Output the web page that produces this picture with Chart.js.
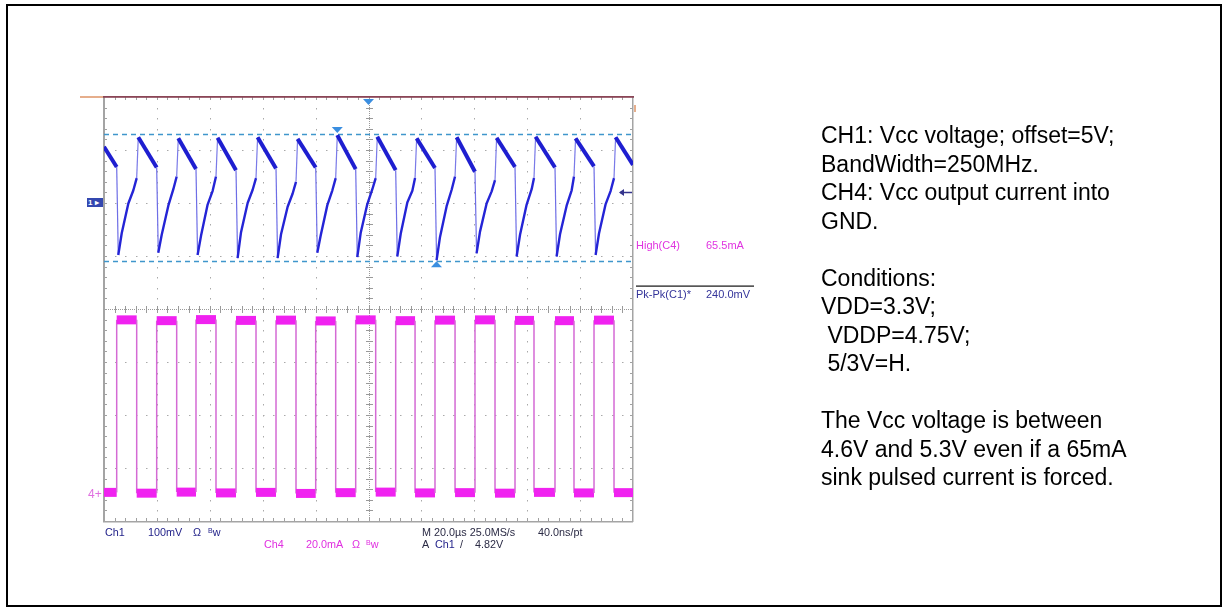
<!DOCTYPE html>
<html><head><meta charset="utf-8">
<script src="https://cdn.jsdelivr.net/npm/chart.js@4.4.0/dist/chart.umd.min.js"></script>
<style>
html,body{margin:0;padding:0;background:#fff;}
#wrap{position:relative;width:1228px;height:612px;overflow:hidden;font-family:"Liberation Sans",Arial,sans-serif;}
#frame{position:absolute;left:6px;top:4px;width:1212px;height:599px;border:2px solid #000;}
canvas{position:absolute;left:0;top:0;}
.t{position:absolute;white-space:pre;line-height:1;}
.s{font-size:10.8px;}
.m{font-size:11px;}
#notes{position:absolute;left:821px;top:121px;font-size:23px;line-height:28.5px;color:#000;white-space:pre;}
</style></head>
<body><div id="wrap">
<div id="frame"></div>
<canvas id="c" width="1228" height="612"></canvas>
<div class="t" style="left:87px;top:198px;width:16px;height:9px;background:#3448b0;color:#fff;font-size:8px;font-weight:bold;line-height:9px;padding-left:1px;box-sizing:border-box">1 ▸</div>
<div class="t" style="left:88px;top:488px;font-size:12px;color:#e070e0">4+</div>
<div class="t m" style="left:636px;top:240px;color:#e035e0">High(C4)</div>
<div class="t m" style="left:706px;top:240px;color:#e035e0">65.5mA</div>
<div class="t m" style="left:636px;top:288.5px;color:#34349a">Pk-Pk(C1)*</div>
<div class="t m" style="left:706px;top:288.5px;color:#34349a">240.0mV</div>
<div class="t s" style="left:105px;top:527px;color:#23238a">Ch1</div>
<div class="t s" style="left:148px;top:527px;color:#23238a">100mV</div>
<div class="t s" style="left:193px;top:527px;color:#23238a">Ω</div>
<div class="t s" style="left:208px;top:527px;color:#23238a"><span style="font-size:7px;vertical-align:3px">B</span>w</div>
<div class="t s" style="left:264px;top:539px;color:#e030e0">Ch4</div>
<div class="t s" style="left:306px;top:539px;color:#e030e0">20.0mA</div>
<div class="t s" style="left:352px;top:539px;color:#e030e0">Ω</div>
<div class="t s" style="left:366px;top:539px;color:#e030e0"><span style="font-size:7px;vertical-align:3px">B</span>w</div>
<div class="t s" style="left:422px;top:527px;color:#2a2a44">M 20.0µs 25.0MS/s</div>
<div class="t s" style="left:538px;top:527px;color:#2a2a44">40.0ns/pt</div>
<div class="t s" style="left:422px;top:539px;color:#2a2a44">A</div>
<div class="t s" style="left:435px;top:539px;color:#23238a">Ch1</div>
<div class="t s" style="left:460px;top:539px;color:#2a2a44">/</div>
<div class="t s" style="left:475px;top:539px;color:#2a2a44">4.82V</div>
<div id="notes">CH1: Vcc voltage; offset=5V;
BandWidth=250MHz.
CH4: Vcc output current into
GND.

Conditions:
VDD=3.3V;
 VDDP=4.75V;
 5/3V=H.

The Vcc voltage is between
4.6V and 5.3V even if a 65mA
sink pulsed current is forced.</div>
</div>
<script>
// ---- axis divisions ----
const timeDivUs = [-100, -80, -60, -40, -20, 0, 20, 40, 60, 80, 100];
const voltDivV = [4.2, 4.3, 4.4, 4.5, 4.6, 4.7, 4.8, 4.9, 5.0];
const ch4RangeMa = [-10.6, 149.4];

// ---- CH4 current pulses ----
const pulseStartUs = [-95.20, -80.08, -65.22, -50.09, -34.97, -19.96, -4.84, 10.28, 25.14, 40.26, 55.39, 70.51, 85.26];
const pulseEndUs   = [-87.64, -72.52, -57.66, -42.53, -27.41, -12.40, 2.72, 17.60, 32.72, 47.83, 62.57, 77.69, 92.82];
const ch4HighMa = [65.3, 65.0, 65.4, 65.1, 65.2, 64.9, 65.3, 65.0, 65.2, 65.3, 65.1, 65.0, 65.2];
const ch4LowMa  = [0.2, -0.1, 0.3, 0.0, 0.2, -0.2, 0.1, 0.3, 0.0, 0.1, -0.1, 0.2, 0.0, 0.1];

// ---- CH1 voltage ----
const ch1LeftV = 4.906;
const ch1RightV = 4.872;
const ch1KneeV  = [4.868, 4.867, 4.864, 4.862, 4.865, 4.867, 4.864, 4.862, 4.866, 4.859, 4.868, 4.867, 4.869];
const ch1MinV   = [4.702, 4.706, 4.702, 4.696, 4.696, 4.706, 4.698, 4.699, 4.692, 4.705, 4.699, 4.699, 4.702];
const ch1Rise1V = [4.743, 4.740, 4.738, 4.745, 4.741, 4.739, 4.744, 4.742, 4.736, 4.746, 4.740, 4.741, 4.743];
const ch1Rise2V = [4.799, 4.795, 4.797, 4.800, 4.793, 4.796, 4.798, 4.801, 4.794, 4.799, 4.797, 4.795, 4.798];
const ch1Rise3V = [4.824, 4.826, 4.823, 4.825, 4.818, 4.824, 4.826, 4.823, 4.825, 4.822, 4.826, 4.824, 4.823];
const ch1RecV   = [4.847, 4.850, 4.850, 4.847, 4.840, 4.847, 4.847, 4.847, 4.850, 4.843, 4.847, 4.850, 4.847];
const ch1PeakV  = [4.924, 4.922, 4.923, 4.924, 4.921, 4.928, 4.925, 4.922, 4.924, 4.923, 4.925, 4.922, 4.924];
const ch1RiseOffsetUs = [0.6, 1.9, 4.4, 6.3];
const ch1PeakDelayUs = 0.6;

// ---- cursors / trigger ----
const cursorV = [4.930, 4.690];
const cursorMarkUs = [-11.8, 25.7];
const triggerUs = 0;
const triggerV = 4.82;

// build CH1 polyline
const ch1Points = [{x: timeDivUs[0], y: ch1LeftV, s: 'decay'}];
for (let k = 0; k < pulseStartUs.length; k++) {
  const S = pulseStartUs[k], E = pulseEndUs[k];
  ch1Points.push({x: S, y: ch1KneeV[k], s: 'drop'});
  ch1Points.push({x: S + ch1RiseOffsetUs[0], y: ch1MinV[k], s: 'rise'});
  ch1Points.push({x: S + ch1RiseOffsetUs[1], y: ch1Rise1V[k], s: 'rise'});
  ch1Points.push({x: S + ch1RiseOffsetUs[2], y: ch1Rise2V[k], s: 'rise'});
  ch1Points.push({x: S + ch1RiseOffsetUs[3], y: ch1Rise3V[k], s: 'rise'});
  ch1Points.push({x: E, y: ch1RecV[k], s: 'jump'});
  ch1Points.push({x: E + ch1PeakDelayUs, y: ch1PeakV[k], s: 'decay'});
}
ch1Points.push({x: timeDivUs[timeDivUs.length - 1], y: ch1RightV, s: 'decay'});

// build CH4 polyline
const ch4Points = [{x: timeDivUs[0], y: ch4LowMa[0], s: 'flat'}];
for (let k = 0; k < pulseStartUs.length; k++) {
  ch4Points.push({x: pulseStartUs[k], y: ch4LowMa[k], s: 'edge'});
  ch4Points.push({x: pulseStartUs[k], y: ch4HighMa[k], s: 'flat'});
  ch4Points.push({x: pulseEndUs[k], y: ch4HighMa[k], s: 'edge'});
  ch4Points.push({x: pulseEndUs[k], y: ch4LowMa[k + 1], s: 'flat'});
}
ch4Points.push({x: timeDivUs[timeDivUs.length - 1], y: ch4LowMa[ch4LowMa.length - 1], s: 'flat'});

const ch1Style = {decay: ['#1e1ed0', 4], rise: ['#2424d6', 2.4], drop: ['#6e6ee6', 1.2], jump: ['#7a7ae8', 1.2]};
const ch4Style = {flat: ['#f022f0', 9], edge: ['#d46ad4', 1.5]};

const gridPlugin = {
  id: 'scopeGrid',
  beforeDatasetsDraw(chart) {
    const {ctx, scales} = chart;
    const x = scales.x, y = scales.y1;
    const xs = timeDivUs.map(v => Math.round(x.getPixelForValue(v)));
    const ys = voltDivV.map(v => Math.round(y.getPixelForValue(v)));
    const L = xs[0], R = xs[xs.length - 1], T = ys[ys.length - 1], B = ys[0];
    const mx = (R - L) / 50, my = (B - T) / 40;
    const cx = xs[5], cy = ys[4];
    ctx.save();
    ctx.fillStyle = '#a9a9a9';
    for (let i = 1; i < xs.length - 1; i++) {
      if (i === 5) continue;
      for (let j = 1; j < 40; j++) ctx.fillRect(xs[i], Math.round(T + j * my), 1, 1.5);
    }
    for (let i = 1; i < ys.length - 1; i++) {
      if (i === 4) continue;
      for (let j = 1; j < 50; j++) ctx.fillRect(Math.round(L + j * mx), ys[i], 1.5, 1);
    }
    ctx.fillStyle = '#9a9a9a';
    for (let yy = T; yy < B; yy += 2) ctx.fillRect(cx, yy, 1, 1);
    for (let xx = L; xx < R; xx += 2) ctx.fillRect(xx, cy, 1, 1);
    for (let j = 1; j < 40; j++) ctx.fillRect(cx - 3, Math.round(T + j * my), 7, 1);
    for (let j = 1; j < 50; j++) ctx.fillRect(Math.round(L + j * mx), cy - 3, 1, 7);
    ctx.fillStyle = '#a0a0a0';
    for (let j = 1; j < 40; j++) {
      const yy = Math.round(T + j * my);
      ctx.fillRect(L, yy, 3, 1);
      ctx.fillRect(R - 3, yy, 3, 1);
    }
    for (let j = 1; j < 50; j++) {
      const xx = Math.round(L + j * mx);
      ctx.fillRect(xx, T, 1, 3);
      ctx.fillRect(xx, B - 3, 1, 3);
    }
    ctx.fillStyle = '#a4a4a4';
    ctx.fillRect(L - 1, T, 2, B - T + 1);
    ctx.fillRect(R - 1, T, 1.5, B - T + 1);
    ctx.fillRect(L - 1, B, R - L + 1, 1.5);
    ctx.fillStyle = '#8a4556';
    ctx.fillRect(L - 1, T - 1, R - L + 2, 1.8);
    ctx.fillStyle = '#e6ae8c';
    ctx.fillRect(L - 24, T - 1, 23, 2);
    ctx.fillRect(R + 1, T + 8, 2, 7);
    ctx.strokeStyle = '#3f96cc';
    ctx.lineWidth = 1.3;
    ctx.setLineDash([5, 4]);
    cursorV.forEach(v => {
      const py = Math.round(y.getPixelForValue(v)) + 0.5;
      ctx.beginPath(); ctx.moveTo(L, py); ctx.lineTo(R, py); ctx.stroke();
    });
    ctx.setLineDash([]);
    ctx.restore();
  },
  afterDatasetsDraw(chart) {
    const {ctx, scales} = chart;
    const x = scales.x, y = scales.y1;
    const T = Math.round(y.getPixelForValue(voltDivV[voltDivV.length - 1]));
    const R = Math.round(x.getPixelForValue(timeDivUs[timeDivUs.length - 1]));
    ctx.save();
    ctx.fillStyle = '#3a8ee0';
    const tri = (px, py, up) => {
      ctx.beginPath();
      if (up) { ctx.moveTo(px, py); ctx.lineTo(px - 5.5, py + 6); ctx.lineTo(px + 5.5, py + 6); }
      else { ctx.moveTo(px - 5.5, py); ctx.lineTo(px + 5.5, py); ctx.lineTo(px, py + 6); }
      ctx.closePath(); ctx.fill();
    };
    tri(x.getPixelForValue(triggerUs), T + 2, false);
    tri(x.getPixelForValue(cursorMarkUs[0]), y.getPixelForValue(cursorV[0]) - 7, false);
    tri(x.getPixelForValue(cursorMarkUs[1]), y.getPixelForValue(cursorV[1]), true);
    const ty = Math.round(y.getPixelForValue(triggerV)) + 0.5;
    ctx.strokeStyle = '#34348c'; ctx.fillStyle = '#34348c'; ctx.lineWidth = 1.5;
    ctx.beginPath(); ctx.moveTo(R - 13, ty); ctx.lineTo(R - 1, ty); ctx.stroke();
    ctx.beginPath(); ctx.moveTo(R - 14, ty); ctx.lineTo(R - 9, ty - 3.5); ctx.lineTo(R - 9, ty + 3.5); ctx.closePath(); ctx.fill();
    ctx.fillStyle = '#111';
    ctx.fillRect(R + 3, 285.5, 118, 1.2);
    ctx.restore();
  }
};

new Chart(document.getElementById('c'), {
  type: 'line',
  data: {
    datasets: [
      {
        label: 'CH1', data: ch1Points, xAxisID: 'x', yAxisID: 'y1',
        borderColor: '#1e1ed0', borderWidth: 3, pointRadius: 0, tension: 0, borderJoinStyle: 'round',
        segment: {
          borderColor: c => ch1Style[ch1Points[c.p0DataIndex].s][0],
          borderWidth: c => ch1Style[ch1Points[c.p0DataIndex].s][1]
        }
      },
      {
        label: 'CH4', data: ch4Points, xAxisID: 'x', yAxisID: 'y4',
        borderColor: '#f022f0', borderWidth: 9, pointRadius: 0, tension: 0,
        segment: {
          borderColor: c => ch4Style[ch4Points[c.p0DataIndex].s][0],
          borderWidth: c => ch4Style[ch4Points[c.p0DataIndex].s][1]
        }
      }
    ]
  },
  options: {
    responsive: false, animation: false, devicePixelRatio: 1,
    layout: {padding: {left: 104, top: 97, right: 595, bottom: 91}},
    plugins: {legend: {display: false}, tooltip: {enabled: false}, title: {display: false}},
    scales: {
      x: {type: 'linear', min: timeDivUs[0], max: timeDivUs[timeDivUs.length - 1], display: false},
      y1: {type: 'linear', min: voltDivV[0], max: voltDivV[voltDivV.length - 1], display: false},
      y4: {type: 'linear', min: ch4RangeMa[0], max: ch4RangeMa[1], display: false}
    }
  },
  plugins: [gridPlugin]
});
</script>
</body></html>
